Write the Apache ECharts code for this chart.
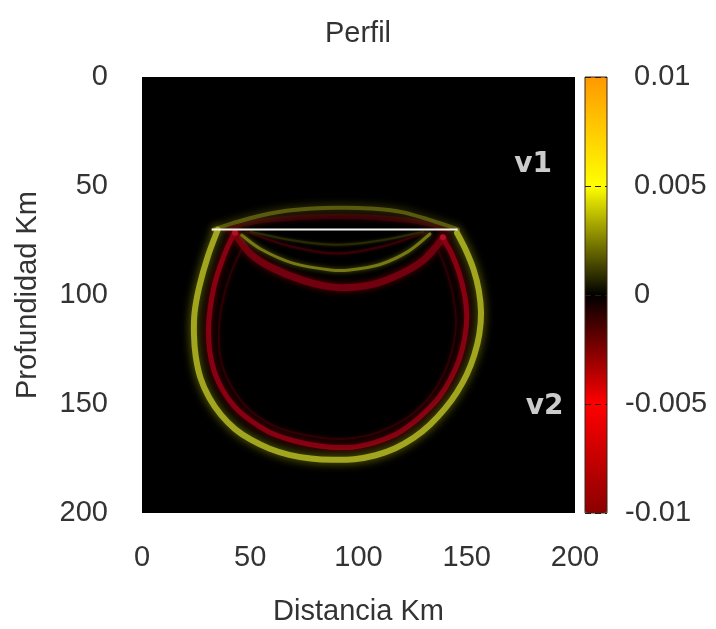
<!DOCTYPE html>
<html><head><meta charset="utf-8">
<script src="https://cdn.jsdelivr.net/npm/echarts@6/dist/echarts.min.js"></script>
<style>html,body{margin:0;padding:0;background:#fff}#c{width:716px;height:629px}</style>
</head><body><div id="c"></div><script>
// ---- data ----
const xTicks = [0, 50, 100, 150, 200];
const yTicks = [0, 50, 100, 150, 200];
const cbTicks = [-0.01, -0.005, 0, 0.005, 0.01];
const cbTickLabels = ['-0.01', '-0.005', '0', '0.005', '0.01'];
const paletteStops = ['#8b0000', '#ff0000', '#000000', '#ffff00', '#ff9900'];

// wavefronts (Distancia km, Profundidad km)
const outerYellowRing = [[35,70],[30.5,82],[26.5,96],[24.3,108],[24,118],[24.8,128],[27,138],[31,147],[36.5,155],[43,161.5],[50.5,166.5],[59,170.5],[68,173.3],[78,175],[88,175.6],[98,175.3],[108,173.5],[117,170.3],[125.5,165.5],[133,159.5],[140,152],[145.5,144.5],[150,136.5],[153.5,127.5],[155.8,118],[156.6,108],[155.6,98],[153.2,88.5],[149.6,79.5],[145.5,71.5]];
const redRing = [[43,71],[39.5,78],[36,87],[33.3,96],[31.5,106],[30.7,116],[31.3,126],[33.5,135.5],[37.5,144],[43,151.5],[50,157.5],[58,162.5],[67,166],[77,168.5],[87,169.8],[97,169.8],[107,167.8],[116,164.5],[124,159.5],[131,153.5],[137.5,146.5],[142.5,138.5],[146.5,129.5],[149,120],[150,110],[149,100],[146.5,90],[143,81],[139,74]];
const innerFaintRing = [[47,77],[41,90],[37,104],[35.5,118],[37,132],[42,143],[49,152],[58,158.5],[68,162.5],[80,165],[92,166],[104,164.5],[115,160.5],[125,154.5],[133,146.5],[139,137],[143,126],[145,114],[144,102],[141,90],[137,80]];
const topYellowArc = [[33,70],[42,67],[55,63.5],[70,61],[90,60],[105,60.3],[120,62],[137.6,67],[146,70]];
const topRedArc = [[38,70],[55,66],[90,64],[125,66],[142,70]];
const innerYellowArc = [[46,72.5],[55,79],[70,85.5],[87,88.5],[96,88.5],[110,86],[123,80],[133,72]];
const innerRedBand = [[43,72],[50,81],[60,87.5],[75,93.5],[90,96.5],[105,95.5],[118,91],[130,84],[139,74]];
const faintArcA = [[48,71],[70,78],[90,81],[110,78],[132,71]];
const faintArcB = [[50,71],[70,75],[90,77],[110,75],[130,71]];
const cusps = [[43,71.5],[139,73.5]];
const interfaceLine = [[32.2,70],[145.8,70]];
const layerLabels = [[180.6,40.4,'v1'],[186,151.4,'v2']];

// ---- chart ----
const FONT = 'Liberation Sans';
const TXT = '#333';
// smooth curve through the data points, positioned by the axes (api.coord)
function wave(data, color, width, blur, shadow, z) {
  return { type:'custom', xAxisIndex:0, yAxisIndex:0, data: data, silent:true, z: z, clip:true,
    encode:{ x:0, y:1 },
    renderItem: function (params, api) {
      if (params.dataIndexInside !== 0) return null;
      const n = params.dataInsideLength;
      const P = [];
      for (let i = 0; i < n; i++) P.push(api.coord([api.value(0, i), api.value(1, i)]));
      let d = 'M' + P[0][0] + ' ' + P[0][1];
      for (let i = 0; i < n - 1; i++) {
        const p0 = P[Math.max(i - 1, 0)], p1 = P[i], p2 = P[i + 1], p3 = P[Math.min(i + 2, n - 1)];
        const c1 = [p1[0] + (p2[0] - p0[0]) / 6, p1[1] + (p2[1] - p0[1]) / 6];
        const c2 = [p2[0] - (p3[0] - p1[0]) / 6, p2[1] - (p3[1] - p1[1]) / 6];
        d += ' C' + c1[0] + ' ' + c1[1] + ' ' + c2[0] + ' ' + c2[1] + ' ' + p2[0] + ' ' + p2[1];
      }
      return { type:'path', shape:{ pathData: d },
        style:{ fill:'none', stroke: color, lineWidth: width, shadowBlur: blur, shadowColor: shadow, lineCap:'round', lineJoin:'round' } };
    } };
}
const series = [
  wave(innerFaintRing, '#2e0006', 2, 4, '#2e0006', 2),
  wave(topRedArc, '#3a0008', 5, 5, '#3a0008', 2),
  wave(faintArcA, '#3a0008', 2, 3, '#3a0008', 2),
  wave(faintArcB, '#2a2a06', 2, 3, '#2a2a06', 2),
  wave(topYellowArc, '#5a5a0e', 4, 8, '#50500a', 3),
  wave(innerRedBand, '#72000e', 7, 7, '#600008', 3),
  wave(innerYellowArc, '#767814', 3, 5, '#5e600c', 4),
  wave(redRing, '#880012', 5, 7, '#6e0008', 4),
  wave(outerYellowRing, '#a2a61e', 6, 10, '#7a7e08', 5),
  { type:'scatter', xAxisIndex:0, yAxisIndex:0, data: cusps, symbol:'circle', symbolSize:6, silent:true, z:6,
    itemStyle:{ color:'#b8142c', shadowBlur:6, shadowColor:'#a00018' } },
  { type:'line', xAxisIndex:0, yAxisIndex:0, data: interfaceLine, symbol:'none', silent:true, z:7,
    lineStyle:{ color:'#f4f4f0', width:2 } },
  { type:'scatter', xAxisIndex:0, yAxisIndex:0, data: layerLabels, symbolSize:1, silent:true, z:8,
    itemStyle:{ color:'transparent' },
    label:{ show:true, position:'inside', formatter: p => p.value[2], color:'#ffffff', textBorderWidth:0, fontWeight:'bold', fontSize:28, fontFamily:'DejaVu Sans' } },
  { type:'scatter', xAxisIndex:1, yAxisIndex:1, data: [], silent:true }
];
const dummyIdx = series.length - 1;

const option = {
  animation:false,
  backgroundColor:'#ffffff',
  title:{ text:'Perfil', left:'center', top:14, textStyle:{ fontSize:29, fontWeight:'normal', color:TXT, fontFamily:FONT } },
  grid:[
    { left:142, top:77, width:433, height:436, show:true, backgroundColor:'#000000', borderWidth:0, containLabel:false, outerBoundsMode:'none' },
    { left:585, top:77, width:22, height:436, show:true, backgroundColor:'transparent', borderColor:'#3b2418', borderWidth:1, z:10, containLabel:false, outerBoundsMode:'none' }
  ],
  xAxis:[
    { gridIndex:0, type:'value', min:xTicks[0], max:xTicks[xTicks.length-1], interval:xTicks[1]-xTicks[0],
      axisLine:{show:false}, axisTick:{show:false}, splitLine:{show:false},
      axisLabel:{ margin:30, fontSize:29, color:TXT, fontFamily:FONT },
      name:'Distancia Km', nameLocation:'middle', nameGap:84, nameTextStyle:{ fontSize:29, color:TXT, fontFamily:FONT } },
    { gridIndex:1, type:'value', min:0, max:1, show:false }
  ],
  yAxis:[
    { gridIndex:0, type:'value', inverse:true, min:yTicks[0], max:yTicks[yTicks.length-1], interval:yTicks[1]-yTicks[0],
      axisLine:{show:false}, axisTick:{show:false}, splitLine:{show:false},
      axisLabel:{ margin:34, fontSize:29, color:TXT, fontFamily:FONT },
      name:'Profundidad Km', nameLocation:'middle', nameGap:100, nameRotate:90, nameTextStyle:{ fontSize:29, color:TXT, fontFamily:FONT } },
    { gridIndex:1, type:'value', position:'right', min:cbTicks[0], max:cbTicks[cbTicks.length-1], interval:cbTicks[1]-cbTicks[0], z:10,
      axisLine:{show:false}, axisTick:{show:false},
      splitLine:{ show:true, lineStyle:{ color:'#2a1a10', width:1, type:[6,4] } },
      axisLabel:{ margin:18, fontSize:29, color:TXT, fontFamily:FONT,
        formatter: function (v) {
          let best = 0;
          cbTicks.forEach((t, i) => { if (Math.abs(t - v) < Math.abs(cbTicks[best] - v)) best = i; });
          const s = cbTickLabels[best];
          return s.charAt(0) === '-' ? s : '{pad|}' + s;
        },
        rich:{ pad:{ width:9, fontSize:29 } } } }
  ],
  visualMap:{ type:'continuous', seriesIndex:[dummyIdx], min:cbTicks[0], max:cbTicks[cbTicks.length-1],
    orient:'vertical', left:585, top:77, itemWidth:22, itemHeight:436, padding:0,
    calculable:false, hoverLink:false, inRange:{ color: paletteStops } },
  series: series
};
const chart = echarts.init(document.getElementById('c'), null, { renderer:'canvas' });
chart.setOption(option);
</script></body></html>
